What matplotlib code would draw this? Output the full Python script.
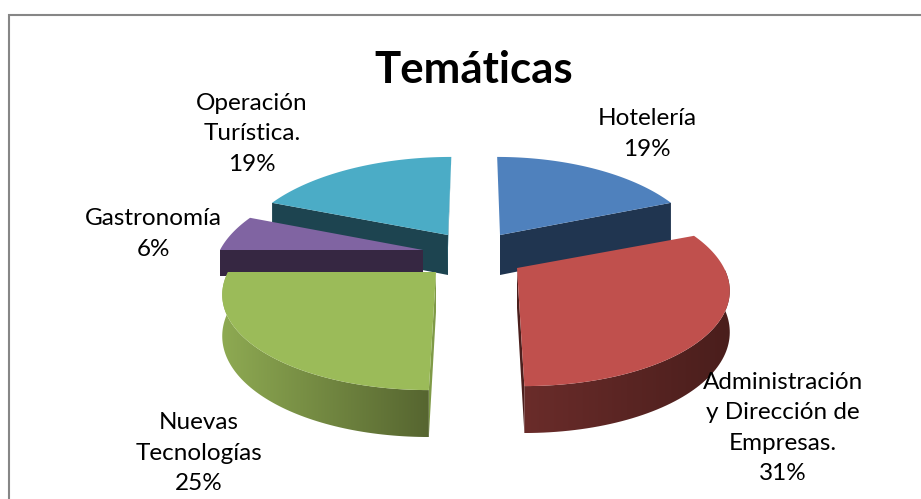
import numpy as np
import matplotlib
matplotlib.use('Agg')
import matplotlib.pyplot as plt
from matplotlib.colors import LinearSegmentedColormap
from matplotlib.patches import Polygon

# datos del grafico
categorias = ['Hotelería', 'Administración\ny Dirección de\nEmpresas.', 'Nuevas\nTecnologías', 'Gastronomía', 'Operación\nTurística.']
valores = [19, 31, 25, 6, 19]

# estilo de cada porcion
color_top = ['#4f81bd', '#c0504d', '#9bbb59', '#8064a2', '#4bacc6']
color_corte = ['#203550', '#4b1f1d', '#7f9a47', '#362742', '#1d4450']
grad_lado = [('#203550', '#203550'), ('#6a2c2a', '#4a1e1c'), ('#8eaa52', '#566530'),
             ('#362742', '#362742'), ('#1d4450', '#1d4450')]
vertice_x = [500, 517, 436, 423, 448]
vertice_y = [235, 268, 272, 250, 235]
radio_x = [199, 207, 208, 203, 205]
grosor = [40, 40, 40, 26, 40]
pos_texto = [(647, 134), (783, 428), (199, 453), (153, 234), (252, 134)]

# parametros de la perspectiva (pixeles)
centro_x = 476
Ry = 94
k = 0.204

plt.rcParams['font.family'] = ['Lato', 'DejaVu Sans']

fig = plt.figure(figsize=(9.21, 4.99), dpi=100)
ax = fig.add_axes([0, 0, 1, 1])
ax.set_axis_off()


# angulo en grados, 0 arriba y sentido horario
def proyectar(i, ang):
    t = np.radians(ang)
    u, v = np.sin(t), np.cos(t)
    s = 1 / (1 + k * v)
    x = vertice_x[i] + radio_x[i] * u * s + 0.7 * (vertice_x[i] - centro_x) * (s - 1)
    y = vertice_y[i] - Ry * v * s
    return x, y, grosor[i] * s ** 0.7


def pared(puntos, c1, c2, z):
    cmap = LinearSegmentedColormap.from_list('lado', [c1, c2])
    p = Polygon(puntos, closed=True, facecolor='none', edgecolor='none', transform=ax.transData)
    ax.add_patch(p)
    xs = [q[0] for q in puntos]
    ys = [q[1] for q in puntos]
    im = ax.imshow(np.linspace(0, 1, 256).reshape(1, -1), cmap=cmap, aspect='auto', zorder=z,
                   extent=[min(xs), max(xs), max(ys), min(ys)])
    im.set_clip_path(p)


total = sum(valores)
bordes = np.cumsum([0] + valores) * 360 / total

# de atras hacia adelante
orden = [4, 0, 3, 1, 2]
z = 2
for i in orden:
    a1, a2 = bordes[i], bordes[i + 1]
    angs = np.linspace(a1, a2, 80)
    arco = [proyectar(i, a) for a in angs]
    ap = (vertice_x[i], vertice_y[i])

    # cara del corte
    if i in (0, 4, 3):
        a = a2 if i == 0 else a1
        x, y, g = proyectar(i, a)
        ax.add_patch(Polygon([ap, (x, y), (x, y + g), (ap[0], ap[1] + grosor[i])],
                             facecolor=color_corte[i], edgecolor='none', zorder=z))
    if i == 4:
        x, y, g = proyectar(i, a2)
        ax.add_patch(Polygon([ap, (x, y), (ap[0] - 1, ap[1] + grosor[i])],
                             facecolor='#3a8296', edgecolor='none', zorder=z))
    if i in (1, 2):
        x, y, g = proyectar(i, 180)
        ax.add_patch(Polygon([ap, (x, y), (x, y + g), (ap[0], ap[1] + grosor[i])],
                             facecolor=color_corte[i], edgecolor='none', zorder=z))
    z += 1

    # pared exterior, solo la parte de enfrente
    frente = [q for q, a in zip(arco, angs) if 90 <= a <= 270]
    if len(frente) > 1:
        puntos = [(q[0], q[1]) for q in frente] + [(q[0], q[1] + q[2]) for q in frente[::-1]]
        pared(puntos, grad_lado[i][0], grad_lado[i][1], z)
    z += 1

    # cara de arriba
    ax.add_patch(Polygon([ap] + [(q[0], q[1]) for q in arco], facecolor=color_top[i],
                         edgecolor='none', zorder=z))
    z += 1

# marco
ax.plot([9, 9, 921], [499, 15, 15], color='#868686', lw=1.5, zorder=1, solid_joinstyle='miter')

ax.text(473.5, 70, 'Temáticas', fontsize=31.5, fontweight='bold', ha='center', va='center', color='black', zorder=50)

for i in range(len(valores)):
    txt = categorias[i] + '\n' + str(valores[i]) + '%'
    ax.text(pos_texto[i][0], pos_texto[i][1], txt, fontsize=17.5, ha='center', va='center',
            linespacing=1.55, color='black', zorder=50)

ax.set_xlim(0, 921)
ax.set_ylim(499, 0)

fig.savefig('out.png', dpi=100, facecolor='white')
